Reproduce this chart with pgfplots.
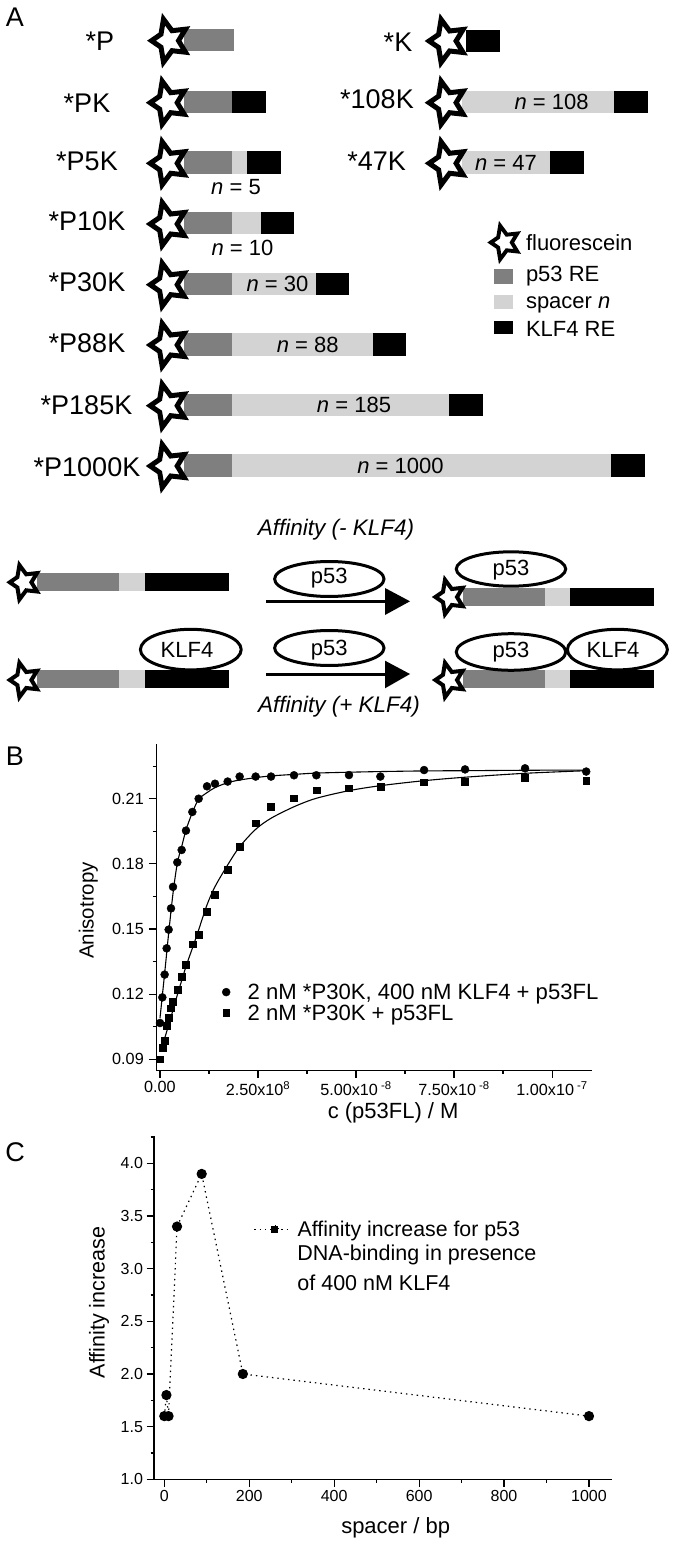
\documentclass[border=0pt]{standalone}
\usepackage{fontspec}
\setmainfont{Liberation Sans}
\usepackage{pgfplots}
\pgfplotsset{compat=1.18}
\usepackage{pgfplotstable}
\newcommand\fs[1]{\fontsize{#1}{#1}\selectfont}
\definecolor{reP}{HTML}{7F7F7F}
\definecolor{spc}{HTML}{D3D3D3}
% bar segment: colour, x1, y1, x2, y2 (pixel units of the page axis)
\newcommand\seg[5]{\addplot[fill=#1,draw=none,forget plot] coordinates {(#2,#3)(#4,#3)(#4,#5)(#2,#5)} --cycle;}
% star: cx, cy, scale
\newcommand\fstar[3]{\draw[black,fill=white,line width=#3*5pt,line join=miter,miter limit=12]
 (axis cs:{#1-#3*17.5},{#2}) -- (axis cs:{#1-#3*8},{#2-#3*6.5}) -- (axis cs:{#1-#3*5.5},{#2-#3*21.5})
 -- (axis cs:{#1+#3*3},{#2-#3*10}) -- (axis cs:{#1+#3*16.5},{#2-#3*11.5}) -- (axis cs:{#1+#3*9.5},{#2})
 -- (axis cs:{#1+#3*16.5},{#2+#3*11.5}) -- (axis cs:{#1+#3*3},{#2+#3*10}) -- (axis cs:{#1-#3*5.5},{#2+#3*21.5})
 -- (axis cs:{#1-#3*8},{#2+#3*6.5}) -- cycle;}
\newcommand\lab[4]{\node[font=\fs{#1},inner sep=0pt] at (axis cs:#2,#3) {#4};}
\newcommand\prot[4]{\draw[black,fill=white,line width=3pt] (axis cs:#1,#2) ellipse [x radius=#3pt,y radius=#4pt];}
\begin{document}
\begin{tikzpicture}
\path[use as bounding box] (0,0) rectangle (673pt,1544pt);
\begin{axis}[at={(0pt,0pt)},anchor=south west,scale only axis,width=673pt,height=1544pt,
  xmin=0,xmax=673,ymin=0,ymax=1544,y dir=reverse,hide axis,clip=false]
% panel letters
\lab{27}{15}{17}{A}
\lab{27}{15}{756}{B}
\lab{27}{15}{1152}{C}
% panel A, left column
\seg{reP}{184}{29}{233.5}{51}
\seg{reP}{184}{91}{232.2}{113.3}\seg{black}{232.2}{91}{266}{113.3}
\seg{reP}{184}{151.3}{232.2}{173.7}\seg{spc}{232.2}{151.3}{247.2}{173.7}\seg{black}{247.2}{151.3}{281.1}{173.7}
\seg{reP}{184}{212}{232.2}{234.3}\seg{spc}{232.2}{212}{260.5}{234.3}\seg{black}{260.5}{212}{294}{234.3}
\seg{reP}{184}{272.7}{232.2}{295}\seg{spc}{232.2}{272.7}{315.9}{295}\seg{black}{315.9}{272.7}{349.4}{295}
\seg{reP}{184}{333}{232.2}{355.7}\seg{spc}{232.2}{333}{372.5}{355.7}\seg{black}{372.5}{333}{406.4}{355.7}
\seg{reP}{184}{393.7}{232.2}{416}\seg{spc}{232.2}{393.7}{449}{416}\seg{black}{449}{393.7}{482.8}{416}
\seg{reP}{184}{454}{232.2}{476.7}\seg{spc}{232.2}{454}{611.2}{476.7}\seg{black}{611.2}{454}{645}{476.7}
% right column
\seg{black}{466}{30}{500}{52.3}
\seg{spc}{462}{91}{614.2}{113.3}\seg{black}{614.2}{91}{648}{113.3}
\seg{spc}{462}{151.3}{549.8}{173.7}\seg{black}{549.8}{151.3}{584}{173.7}
% stars
\fstar{169}{40.7}{1}\fstar{167.7}{102.7}{1}\fstar{167.7}{163.3}{1}\fstar{167.7}{224}{1}
\fstar{167.7}{284.7}{1}\fstar{167.7}{345}{1}\fstar{167.7}{405.7}{1}\fstar{167.7}{466}{1}
\fstar{446.6}{41}{1}\fstar{446.6}{102.7}{1}\fstar{446.6}{163.3}{1}
% names
\lab{27}{100}{41}{*P}\lab{27}{87}{103}{*PK}\lab{27}{87}{161}{*P5K}\lab{27}{87}{221}{*P10K}
\lab{27}{87}{282}{*P30K}\lab{27}{87}{343}{*P88K}\lab{27}{86.5}{405}{*P185K}\lab{27}{87}{467}{*P1000K}
\lab{27}{398}{42}{*K}\lab{27}{377}{99}{*108K}\lab{27}{376.6}{161}{*47K}
% n labels
\lab{22}{236}{187}{\textit{n} = 5}\lab{22}{242.5}{247.5}{\textit{n} = 10}
\lab{22}{277.4}{284}{\textit{n} = 30}\lab{22}{307.7}{344.5}{\textit{n} = 88}
\lab{22}{354}{405}{\textit{n} = 185}\lab{22}{400.4}{465.5}{\textit{n} = 1000}
\lab{22}{551.5}{102}{\textit{n} = 108}\lab{22}{506}{163}{\textit{n} = 47}
% key
\fstar{504.4}{242.5}{.78}
\seg{reP}{493.5}{269.3}{513}{284}\seg{spc}{493.5}{295}{513}{309}\seg{black}{493.5}{320.7}{513}{334.3}
\node[font=\fs{22},inner sep=0pt,anchor=west] at (axis cs:525.8,243) {fluorescein};
\node[font=\fs{22},inner sep=0pt,anchor=west] at (axis cs:525.8,276) {p53 RE};
\node[font=\fs{22},inner sep=0pt,anchor=west] at (axis cs:525.8,305) {spacer \textit{n}};
\node[font=\fs{22},inner sep=0pt,anchor=west] at (axis cs:525.8,329.3) {KLF4 RE};
% scheme
\lab{22.5}{336}{530}{\textit{Affinity (- KLF4)}}
\lab{22.5}{339}{706.7}{\textit{Affinity (+ KLF4)}}
\seg{reP}{37}{572.7}{118.9}{590.7}\seg{spc}{118.9}{572.7}{144.6}{590.7}\seg{black}{144.6}{572.7}{228.8}{590.7}
\fstar{23.8}{582.3}{.8}
\seg{reP}{463}{588}{545}{606}\seg{spc}{545}{588}{570.4}{606}\seg{black}{570.4}{588}{654}{606}
\fstar{449.4}{597}{.8}
\seg{reP}{37}{670}{118.9}{688.3}\seg{spc}{118.9}{670}{144.6}{688.3}\seg{black}{144.6}{670}{228.8}{688.3}
\fstar{23.8}{680}{.8}
\seg{reP}{463}{670}{545}{688.3}\seg{spc}{545}{670}{570.4}{688.3}\seg{black}{570.4}{670}{654}{688.3}
\fstar{449.4}{680}{.8}
\addplot[black,line width=3pt,forget plot] coordinates {(266,601.3)(392,601.3)};
\addplot[black,fill=black,draw=none,forget plot] coordinates {(385,588)(410,601.3)(385,615)} --cycle;
\addplot[black,line width=3pt,forget plot] coordinates {(266,674)(392,674)};
\addplot[black,fill=black,draw=none,forget plot] coordinates {(385,660.7)(410,674)(385,688.3)} --cycle;
\prot{329.3}{579}{54.7}{17.5}\lab{22}{329.3}{578}{p53}
\prot{329.3}{648}{54.7}{17.5}\lab{22}{329.3}{650}{p53}
\prot{511}{569}{54.7}{17.2}\lab{22}{511}{570}{p53}
\prot{190.8}{649.6}{50.4}{20.3}\lab{22}{187}{650}{KLF4}
\prot{511}{652}{54.7}{18.3}\lab{22}{511}{652}{p53}
\prot{617.4}{649.6}{50}{20.3}\lab{22}{613}{650}{KLF4}
\end{axis}
% panel B
\begin{axis}[at={(156.3pt,473.5pt)},anchor=south west,scale only axis,width=435.4pt,height=326.5pt,
  xmin=-0.94,xmax=110.1,ymin=0.08484,ymax=0.2352,
  axis x line*=bottom,axis y line*=left,axis line style={-,line width=1.3pt},
  tick style={black,line width=1.2pt},tick align=outside,major tick length=7.5pt,minor tick length=3.5pt,
  xtick={0,25,50,75,100},xticklabels={0.00,2.50x10\textsuperscript{8},5.00x10\textsuperscript{ -8},7.50x10\textsuperscript{ -8},1.00x10\textsuperscript{ -7}},
  minor xtick={12.5,37.5,62.5,87.5},
  ytick={0.09,0.12,0.15,0.18,0.21},yticklabels={0.09,0.12,0.15,0.18,0.21},
  minor ytick={0.105,0.135,0.165,0.195,0.225},
  tick label style={font=\fs{16.2}},
  yticklabel style={xshift=-1.5pt},
  xlabel={c (p53FL) / M},ylabel={Anisotropy},
  label style={font=\fs{20.5}},
  xlabel style={at={(axis description cs:0.544,-0.13)},anchor=center,font=\fs{22}},
  ylabel style={at={(axis description cs:-0.156,0.49)},anchor=center,rotate=0},
  legend style={at={(0.1509,0.208)},anchor=west,draw=none,fill=none,font=\fs{22.1},inner sep=0pt,row sep=0pt,
    /tikz/column 1/.style={column sep=15.5pt}},
  legend cell align=left,
  clip=false]
\addplot[black,line width=1.1pt,smooth,forget plot] table {
0 0.1089
1.19 0.1296
2.21 0.1480
3.32 0.1664
4.42 0.1803
5.53 0.1879
6.63 0.1956
8.25 0.2036
9.86 0.2097
11.99 0.2128
14.03 0.2151
17.26 0.2174
20.32 0.2186
24.4 0.2197
28.32 0.2205
34.18 0.2212
39.88 0.2218
48.2 0.2222
56.2 0.2225
67.35 0.2228
77.8 0.2229
93.1 0.2231
108.7 0.2232
};
\addplot[black,line width=1.1pt,smooth,forget plot] table {
0 0.0935
1.19 0.0997
2.21 0.1058
3.32 0.1127
4.42 0.1196
6.63 0.1327
8.25 0.1411
9.86 0.1496
11.99 0.1611
14.03 0.1695
17.26 0.1795
20.32 0.1879
24.4 0.1959
28.32 0.2010
34.18 0.2063
39.88 0.2102
48.2 0.2137
56.2 0.2160
67.35 0.2183
77.8 0.2199
93.1 0.2217
108.7 0.2229
};
\addplot[only marks,mark=*,mark size=4pt,black] table {
0 0.1067
0.6 0.1185
1.19 0.1290
1.70 0.1411
2.21 0.1497
2.81 0.1595
3.32 0.1694
4.42 0.1807
5.53 0.1864
6.63 0.1953
8.25 0.2039
9.86 0.2100
11.99 0.2157
14.03 0.2169
17.26 0.2179
20.32 0.2202
24.4 0.2202
28.32 0.2202
34.18 0.2208
39.88 0.2208
48.2 0.2209
56.2 0.2202
67.35 0.2232
77.8 0.2235
93.1 0.2240
108.7 0.2225
};
\addlegendentry{2 nM *P30K, 400 nM KLF4 + p53FL}
\addplot[only marks,mark=square*,mark size=3.4pt,black] table {
0 0.09
0.6 0.0955
1.19 0.0984
1.70 0.1053
2.21 0.1092
2.81 0.1135
3.32 0.1166
4.42 0.1222
5.53 0.1282
6.63 0.1337
8.25 0.1430
9.86 0.1474
11.99 0.1581
14.03 0.1657
17.26 0.1772
20.32 0.1879
24.4 0.1987
28.32 0.2063
34.18 0.2102
39.88 0.2139
48.2 0.2148
56.2 0.2157
67.35 0.2176
77.8 0.2179
93.1 0.2197
108.7 0.2183
};
\addlegendentry{2 nM *P30K + p53FL}
\end{axis}
% panel C
\begin{axis}[at={(154pt,64.7pt)},anchor=south west,scale only axis,width=457.7pt,height=343.3pt,
  xmin=-24.25,xmax=1053.5,ymin=1.0,ymax=4.26,
  axis x line*=bottom,axis y line*=left,axis line style={-,line width=1.3pt},
  tick style={black,line width=1.2pt},tick align=outside,major tick length=7.5pt,minor tick length=3.5pt,
  xtick={0,200,400,600,800,1000},xticklabels={0,200,400,600,800,1000},
  minor xtick={100,300,500,700,900},
  ytick={1,1.5,2,2.5,3,3.5,4},yticklabels={1.0,1.5,2.0,2.5,3.0,3.5,4.0},
  minor ytick={1.25,1.75,2.25,2.75,3.25,3.75,4.25},
  tick label style={font=\fs{16}},
  xlabel={spacer / bp},ylabel={Affinity increase},
  label style={font=\fs{21.5}},
  xlabel style={at={(axis description cs:0.528,-0.14)},anchor=center,font=\fs{22}},
  ylabel style={at={(axis description cs:-0.12,0.515)},anchor=center},
  legend style={at={(0.217,0.728)},anchor=west,draw=none,fill=none,font=\fs{21.3},inner sep=0pt,
    /tikz/column 1/.style={column sep=6pt}},
  legend image code/.code={\draw[black,line width=1.2pt,dash pattern=on 1.4pt off 4pt] (0pt,0pt) -- (35pt,0pt);
     \fill[black] (17pt,-3.5pt) rectangle (24pt,3.5pt);},
  clip=false]
\addplot[black,line width=1.2pt,dash pattern=on 1.4pt off 4pt,mark=*,mark size=4.5pt,
  mark options={solid,fill=black}] table {
0 1.6
5 1.8
10 1.6
30 3.4
88 3.9
185 2.0
1000 1.6
};
\addlegendentry{Affinity increase for p53}
\node[font=\fs{21.5},inner sep=0pt,anchor=west] at (axis cs:313,3.127) {DNA-binding in presence};
\node[font=\fs{21.5},inner sep=0pt,anchor=west] at (axis cs:313,2.87) {of 400 nM KLF4};
\end{axis}
\end{tikzpicture}
\end{document}
